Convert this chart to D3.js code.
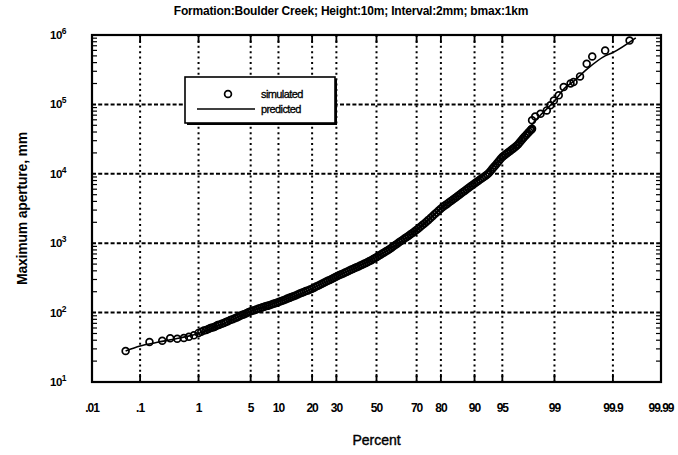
<!DOCTYPE html>
<html>
<head>
<meta charset="utf-8">
<script src="https://cdn.jsdelivr.net/npm/d3@7"></script>
<style>
  body { margin: 0; background: #fff; }
  svg { display: block; }
  text { font-family: "Liberation Sans", Arial, sans-serif; fill: #000; }
</style>
</head>
<body>
<div id="chart"></div>
<script>
// DATA
const title = "Formation:Boulder Creek; Height:10m; Interval:2mm; bmax:1km";
const xTicks = [0.01, 0.1, 1, 5, 10, 20, 30, 50, 70, 80, 90, 95, 99, 99.9, 99.99];
const xTickLabels = [".01", ".1", "1", "5", "10", "20", "30", "50", "70", "80", "90", "95", "99", "99.9", "99.99"];
const yExponents = [1, 2, 3, 4, 5, 6];

// simulated points, low tail (percent, maximum aperture mm)
const simLowPct = [0.052, 0.15, 0.255, 0.35, 0.46, 0.59, 0.71, 0.85];
const simLowVal = [28, 37.7, 39.3, 42.6, 42, 43, 44.9, 47];

// simulated points, dense band
const simBandPct = [1.0, 1.1, 1.2, 1.3, 1.4, 1.5, 1.6, 1.7, 1.8, 1.9, 2.0, 2.15, 2.3, 2.45, 2.6, 2.8, 3.0, 3.2, 3.4, 3.6,
  3.8, 4.0, 4.2, 4.45, 4.7, 4.95, 5.2, 5.5, 5.8, 6.1, 6.4, 6.7, 7.0, 7.35, 7.7, 8.1, 8.5, 8.9, 9.3, 9.75,
  10.2, 10.7, 11.2, 11.7, 12.2, 12.75, 13.3, 13.9, 14.5, 15.15, 15.8, 16.45, 17.1, 17.8, 18.5, 19.25,
  20.0, 20.75, 21.5, 22.25, 23.0, 23.8, 24.6, 25.4, 26.2, 27.05, 27.9, 28.75, 29.6, 30.5, 31.4, 32.3,
  33.2, 34.1, 35.0, 35.95, 36.9, 37.85, 38.8, 39.75, 40.7, 41.65, 42.6, 43.55, 44.5, 45.45, 46.4, 47.35,
  48.3, 49.25, 50.2, 51.15, 52.1, 53.05, 54.0, 54.95, 55.9, 56.85, 57.8, 58.75, 59.7, 60.65, 61.6, 62.55,
  63.5, 64.45, 65.4, 66.3, 67.2, 68.1, 69.0, 69.9, 70.8, 71.7, 72.6, 73.45, 74.3, 75.15, 76.0, 76.8,
  77.6, 78.4, 79.2, 79.95, 80.7, 81.4, 82.1, 82.8, 83.5, 84.15, 84.8, 85.4, 86.0, 86.55, 87.1, 87.6,
  88.1, 88.6, 89.1, 89.55, 90.0, 90.4, 90.8, 91.2, 91.6, 91.95, 92.3, 92.6, 92.9, 93.2, 93.5, 93.75,
  94.0, 94.25, 94.5, 94.75, 95.0, 95.2, 95.4, 95.6, 95.8, 96.0, 96.2, 96.35, 96.5, 96.65, 96.8, 96.95,
  97.1, 97.22, 97.35, 97.48, 97.6, 97.7, 97.8, 97.85, 97.9];
const simBandVal = [51, 53, 55, 56, 58, 60, 61, 62, 64, 66, 67, 69, 71, 73, 75, 78, 80, 83, 85, 88,
  91, 93, 95, 98, 101, 104, 106, 108, 111, 114, 116, 118, 120, 123, 125, 128, 131, 134, 136, 140,
  143, 147, 151, 155, 159, 163, 168, 172, 177, 183, 188, 193, 198, 204, 209, 215,
  221, 229, 237, 244, 252, 261, 270, 278, 287, 296, 306, 316, 327, 337, 347, 357,
  367, 378, 389, 401, 413, 425, 438, 450, 462, 476, 490, 504, 519, 535, 552, 570,
  590, 611, 633, 657, 682, 708, 735, 763, 793, 827, 863, 902, 942, 984, 1028, 1075,
  1125, 1176, 1230, 1285, 1343, 1406, 1472, 1548, 1629, 1724, 1824, 1930, 2042, 2168, 2301, 2449,
  2606, 2776, 2958, 3133, 3319, 3483, 3656, 3850, 4055, 4266, 4487, 4715, 4955, 5200, 5458, 5715,
  5984, 6281, 6592, 6910, 7244, 7560, 7889, 8251, 8630, 9005, 9397, 9806, 10233, 10975, 11776, 12515,
  13300, 14200, 15171, 16300, 17498, 18200, 18923, 19750, 20606, 21550, 22542, 23400, 24322, 25450, 26607, 28400,
  30339, 32200, 34119, 36300, 38548, 40400, 42267, 43500, 44668];

// simulated points, high tail
const simHighPct = [97.9, 98.1, 98.4, 98.7, 98.85, 98.98, 99.14, 99.28, 99.44, 99.5, 99.61, 99.70, 99.76, 99.86, 99.953];
const simHighVal = [59000, 67000, 73500, 82000, 97000, 114000, 135000, 178000, 200000, 210000, 253000, 384000, 490000, 598000, 831000];

// predicted curve
const predPct = [0.052, 0.1, 0.2, 0.5, 1, 2, 5, 10, 20, 30, 50, 70, 80, 90, 95, 97, 98, 98.5, 99, 99.3, 99.5, 99.7, 99.86, 99.9, 99.965];
const predVal = [28, 33, 37, 43, 50, 66, 104, 142, 221, 330, 630, 1550, 3150, 7250, 17000, 29000, 55000, 75000, 112000, 170000, 215000, 320000, 500000, 560000, 910000];

// inverse normal cdf (probability paper)
function probit(p) {
  const a = [-3.969683028665376e+01, 2.209460984245205e+02, -2.759285104469687e+02, 1.383577518672690e+02, -3.066479806614716e+01, 2.506628277459239e+00];
  const b = [-5.447609879822406e+01, 1.615858368580409e+02, -1.556989798598866e+02, 6.680131188771972e+01, -1.328068155288572e+01];
  const c = [-7.784894002430293e-03, -3.223964580411365e-01, -2.400758277161838e+00, -2.549732539343734e+00, 4.374664141464968e+00, 2.938163982698783e+00];
  const d = [7.784695709041462e-03, 3.224671290700398e-01, 2.445134137142996e+00, 3.754408661907416e+00];
  const plow = 0.02425;
  let q, r;
  if (p < plow) {
    q = Math.sqrt(-2 * Math.log(p));
    return (((((c[0]*q+c[1])*q+c[2])*q+c[3])*q+c[4])*q+c[5]) / ((((d[0]*q+d[1])*q+d[2])*q+d[3])*q+1);
  } else if (p <= 1 - plow) {
    q = p - 0.5; r = q * q;
    return (((((a[0]*r+a[1])*r+a[2])*r+a[3])*r+a[4])*r+a[5])*q / (((((b[0]*r+b[1])*r+b[2])*r+b[3])*r+b[4])*r+1);
  }
  q = Math.sqrt(-2 * Math.log(1 - p));
  return -(((((c[0]*q+c[1])*q+c[2])*q+c[3])*q+c[4])*q+c[5]) / ((((d[0]*q+d[1])*q+d[2])*q+d[3])*q+1);
}

// SVG
const W = 678, H = 455;
const margin = { top: 35, right: 17, bottom: 73, left: 92 };
const width = W - margin.left - margin.right;
const height = H - margin.top - margin.bottom;

const svg = d3.select("#chart").append("svg")
  .attr("width", W).attr("height", H);
svg.append("rect").attr("width", W).attr("height", H).attr("fill", "#fff");

const g = svg.append("g").attr("transform", `translate(${margin.left},${margin.top})`);

// SCALES
const zs = d3.scaleLinear()
  .domain([probit(0.0001), probit(0.9999)])
  .range([0, width]);
const xs = pct => zs(probit(pct / 100));
const ys = d3.scaleLog().domain([10, 1e6]).range([height, 0]);

// grid
const innerX = xTicks.slice(1, -1);
g.append("g").selectAll("line").data(innerX).enter().append("line")
  .attr("x1", d => xs(d)).attr("x2", d => xs(d))
  .attr("y1", 0).attr("y2", height)
  .attr("stroke", "#000").attr("stroke-width", 2)
  .attr("stroke-dasharray", "2,3.4");
g.append("g").selectAll("line").data([1e2, 1e3, 1e4, 1e5]).enter().append("line")
  .attr("x1", 0).attr("x2", width)
  .attr("y1", d => ys(d)).attr("y2", d => ys(d))
  .attr("stroke", "#000").attr("stroke-width", 2)
  .attr("stroke-dasharray", "4,2.2");

// x ticks top and bottom (inward)
const tk = g.append("g");
innerX.forEach(d => {
  tk.append("line").attr("x1", xs(d)).attr("x2", xs(d)).attr("y1", height).attr("y2", height - 8)
    .attr("stroke", "#000").attr("stroke-width", 1.8);
  tk.append("line").attr("x1", xs(d)).attr("x2", xs(d)).attr("y1", 0).attr("y2", 8)
    .attr("stroke", "#000").attr("stroke-width", 1.8);
});

// y minor ticks left and right (inward)
const minors = [];
for (let k = 1; k < 6; k++) for (let m = 2; m <= 9; m++) minors.push(m * Math.pow(10, k));
minors.forEach(v => {
  tk.append("line").attr("x1", 0).attr("x2", 5).attr("y1", ys(v)).attr("y2", ys(v))
    .attr("stroke", "#000").attr("stroke-width", 1.2);
  tk.append("line").attr("x1", width).attr("x2", width - 5).attr("y1", ys(v)).attr("y2", ys(v))
    .attr("stroke", "#000").attr("stroke-width", 1.2);
});

// x tick labels
g.append("g").selectAll("text").data(xTicks).enter().append("text")
  .attr("x", d => xs(d))
  .attr("y", height + 30)
  .attr("text-anchor", "middle")
  .style("font-size", "12px")
  .style("font-weight", "bold")
  .style("letter-spacing", "-1px")
  .text((d, i) => xTickLabels[i]);

// y tick labels
const yl = g.append("g").selectAll("text").data(yExponents).enter().append("text")
  .attr("x", -34)
  .attr("y", d => ys(Math.pow(10, d)) + 4)
  .attr("text-anchor", "middle")
  .style("font-size", "11.5px")
  .style("font-weight", "bold")
  .style("letter-spacing", "-0.5px");
yl.append("tspan").text("10");
yl.append("tspan").attr("dy", -5).style("font-size", "8.5px").text(d => d);

// axis titles
svg.append("text")
  .attr("x", margin.left + xs(50))
  .attr("y", 445)
  .attr("text-anchor", "middle")
  .style("font-size", "14px")
  .style("stroke", "#000").style("stroke-width", 0.4)
  .text("Percent");

svg.append("text")
  .attr("transform", "rotate(-90)")
  .attr("x", -(margin.top + height / 2))
  .attr("y", 27)
  .attr("text-anchor", "middle")
  .style("font-size", "14px")
  .style("font-weight", "bold")
  .style("letter-spacing", "-0.2px")
  .text("Maximum aperture, mm");

svg.append("text")
  .attr("x", 351)
  .attr("y", 15)
  .attr("text-anchor", "middle")
  .style("font-size", "12px")
  .style("font-weight", "bold")
  .style("letter-spacing", "-0.2px")
  .text(title);

// predicted line
const line = d3.line()
  .x((d, i) => xs(predPct[i]))
  .y((d, i) => ys(predVal[i]))
  .curve(d3.curveMonotoneX);
g.append("path")
  .datum(predPct)
  .attr("d", line)
  .attr("fill", "none")
  .attr("stroke", "#000")
  .attr("stroke-width", 1.6);

// simulated points
const pts = g.append("g");
[[simLowPct, simLowVal], [simBandPct, simBandVal], [simHighPct, simHighVal]].forEach(([pc, vl]) => {
  pts.append("g").selectAll("circle").data(pc).enter().append("circle")
    .attr("cx", d => xs(d))
    .attr("cy", (d, i) => ys(vl[i]))
    .attr("r", 3.4)
    .attr("fill", "none")
    .attr("stroke", "#000")
    .attr("stroke-width", 1.7);
});

// frame
g.append("rect")
  .attr("width", width).attr("height", height)
  .attr("fill", "none").attr("stroke", "#000").attr("stroke-width", 2.2);

// LEGEND
const lg = svg.append("g");
lg.append("rect").attr("x", 187).attr("y", 79).attr("width", 150).attr("height", 46).attr("fill", "#000");
lg.append("rect").attr("x", 185).attr("y", 77).attr("width", 150).attr("height", 46)
  .attr("fill", "#fff").attr("stroke", "#000").attr("stroke-width", 1.6);
lg.append("circle").attr("cx", 228).attr("cy", 94).attr("r", 3.4)
  .attr("fill", "none").attr("stroke", "#000").attr("stroke-width", 1.7);
lg.append("line").attr("x1", 197).attr("x2", 255).attr("y1", 109).attr("y2", 109)
  .attr("stroke", "#000").attr("stroke-width", 1.4);
lg.append("text").attr("x", 261).attr("y", 98).style("font-size", "11px").style("letter-spacing", "-0.6px")
  .style("stroke", "#000").style("stroke-width", 0.3).text("simulated");
lg.append("text").attr("x", 261).attr("y", 113).style("font-size", "11px").style("letter-spacing", "-0.6px")
  .style("stroke", "#000").style("stroke-width", 0.3).text("predicted");
</script>
</body>
</html>
